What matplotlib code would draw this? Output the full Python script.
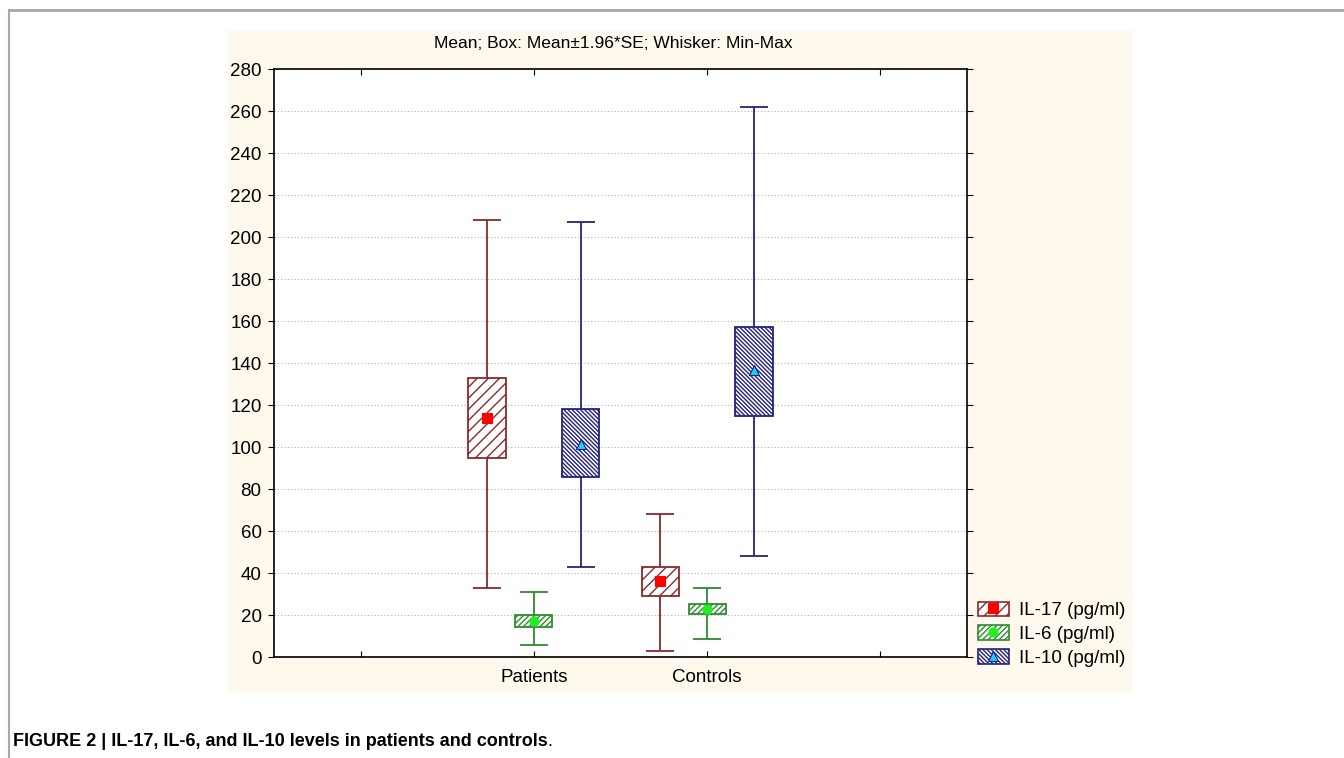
import matplotlib
matplotlib.use("Agg")
import matplotlib.pyplot as plt
import numpy as np
from matplotlib.patches import Patch, Rectangle
from matplotlib.lines import Line2D

plt.rcParams['font.family'] = ['Liberation Sans', 'DejaVu Sans']
plt.rcParams['hatch.linewidth'] = 1.0

# data
groups = ['Patients', 'Controls']
group_pos = [2, 3]
tick_pos = [1, 2, 3, 4]
tick_labels = ['', 'Patients', 'Controls', '']

il17_mean = [114, 36]
il17_lo = [95, 29]
il17_hi = [133, 43]
il17_min = [33, 3]
il17_max = [208, 68]

il6_mean = [17.3, 23]
il6_lo = [14.5, 20.5]
il6_hi = [20, 25]
il6_min = [5.8, 8.5]
il6_max = [31, 33]

il10_mean = [101.5, 136.5]
il10_lo = [85.5, 115]
il10_hi = [118, 157]
il10_min = [43, 48]
il10_max = [207, 262]

series = [
    dict(name='IL-17 (pg/ml)', mean=il17_mean, lo=il17_lo, hi=il17_hi, mn=il17_min, mx=il17_max,
         off=-0.27, color='#8b2a2a', hatch='///', marker='s', mcolor='#ff0000', medge='#ff0000', ms=7),
    dict(name='IL-6 (pg/ml)', mean=il6_mean, lo=il6_lo, hi=il6_hi, mn=il6_min, mx=il6_max,
         off=0.0, color='#2e8b2e', hatch='//////', marker='o', mcolor='#22ee22', medge='#22ee22', ms=6.5),
    dict(name='IL-10 (pg/ml)', mean=il10_mean, lo=il10_lo, hi=il10_hi, mn=il10_min, mx=il10_max,
         off=0.27, color='#23237a', hatch='\\' * 8, marker='^', mcolor='#22ccee', medge='#1a1a8a', ms=7),
]

fig = plt.figure(figsize=(13.44, 7.58), dpi=100)
fig.patch.set_facecolor('white')

# pale background panel and page frame
fig.add_artist(Rectangle((228 / 1344, 1 - 692 / 758), 905 / 1344, 662 / 758,
                         transform=fig.transFigure, facecolor='#fef9ec', edgecolor='none', zorder=-10))
fig.add_artist(Line2D([9 / 1344, 1], [1 - 10 / 758, 1 - 10 / 758], transform=fig.transFigure,
                      color='#a8a8a8', lw=2))
fig.add_artist(Line2D([9 / 1344, 9 / 1344], [0, 1 - 10 / 758], transform=fig.transFigure,
                      color='#a8a8a8', lw=1.5))

ax = fig.add_axes([274 / 1344, 1 - 657 / 758, 693 / 1344, 588 / 758])
ax.set_facecolor('white')

bw = 0.215
cw = 0.16
for s in series:
    x = np.array(group_pos) + s['off']
    lo = np.array(s['lo'])
    hi = np.array(s['hi'])
    ax.vlines(x, s['mn'], s['mx'], color=s['color'], lw=1.3, zorder=2)
    ax.hlines(s['mn'], x - cw / 2, x + cw / 2, color=s['color'], lw=1.3, zorder=2)
    ax.hlines(s['mx'], x - cw / 2, x + cw / 2, color=s['color'], lw=1.3, zorder=2)
    ax.bar(x, hi - lo, bottom=lo, width=bw, facecolor='white', edgecolor=s['color'],
           hatch=s['hatch'], lw=1.3, zorder=3)
    ax.plot(x, s['mean'], linestyle='none', marker=s['marker'], markersize=s['ms'],
            markerfacecolor=s['mcolor'], markeredgecolor=s['medge'], markeredgewidth=0.8, zorder=4)

ax.set_xlim(0.5, 4.5)
ax.set_ylim(0, 280)
ax.set_yticks(np.arange(0, 281, 20))
ax.set_xticks(tick_pos)
ax.set_xticklabels(tick_labels)
ax.tick_params(axis='y', direction='out', length=4, left=True, right=True, labelsize=13.5, pad=5)
ax.tick_params(axis='x', direction='in', length=4, top=True, bottom=True, labelsize=13.5, pad=9)
ax.yaxis.grid(True, linestyle=(0, (1, 2)), color='#b0b0b0', lw=0.8)
ax.set_axisbelow(True)
for sp in ax.spines.values():
    sp.set_linewidth(1.2)

fig.text(613 / 1344, 1 - 43 / 758, 'Mean; Box: Mean\u00b11.96*SE; Whisker: Min-Max',
         ha='center', va='center', fontsize=12.5)

handles = []
for s in series:
    p = Patch(facecolor='white', edgecolor=s['color'], hatch=s['hatch'], lw=1.2)
    m = Line2D([], [], linestyle='none', marker=s['marker'], markersize=s['ms'],
               markerfacecolor=s['mcolor'], markeredgecolor=s['medge'], markeredgewidth=0.8)
    handles.append((p, m))
fig.legend(handles, [s['name'] for s in series], loc='upper left',
           bbox_to_anchor=(970 / 1344, 1 - 594 / 758), frameon=False, fontsize=13.5,
           handlelength=1.7, handleheight=0.85, handletextpad=0.5, labelspacing=0.3,
           borderaxespad=0)

cap = fig.text(13 / 1344, 1 - 741 / 758, 'FIGURE 2 | IL-17, IL-6, and IL-10 levels in patients and controls',
               ha='left', va='center', fontsize=13, fontweight='bold')
r = fig.canvas.get_renderer()
bb = cap.get_window_extent(r)
fig.text(bb.x1 / fig.bbox.width, 1 - 741 / 758, '.', ha='left', va='center', fontsize=13)

fig.savefig('out.png', dpi=100)
